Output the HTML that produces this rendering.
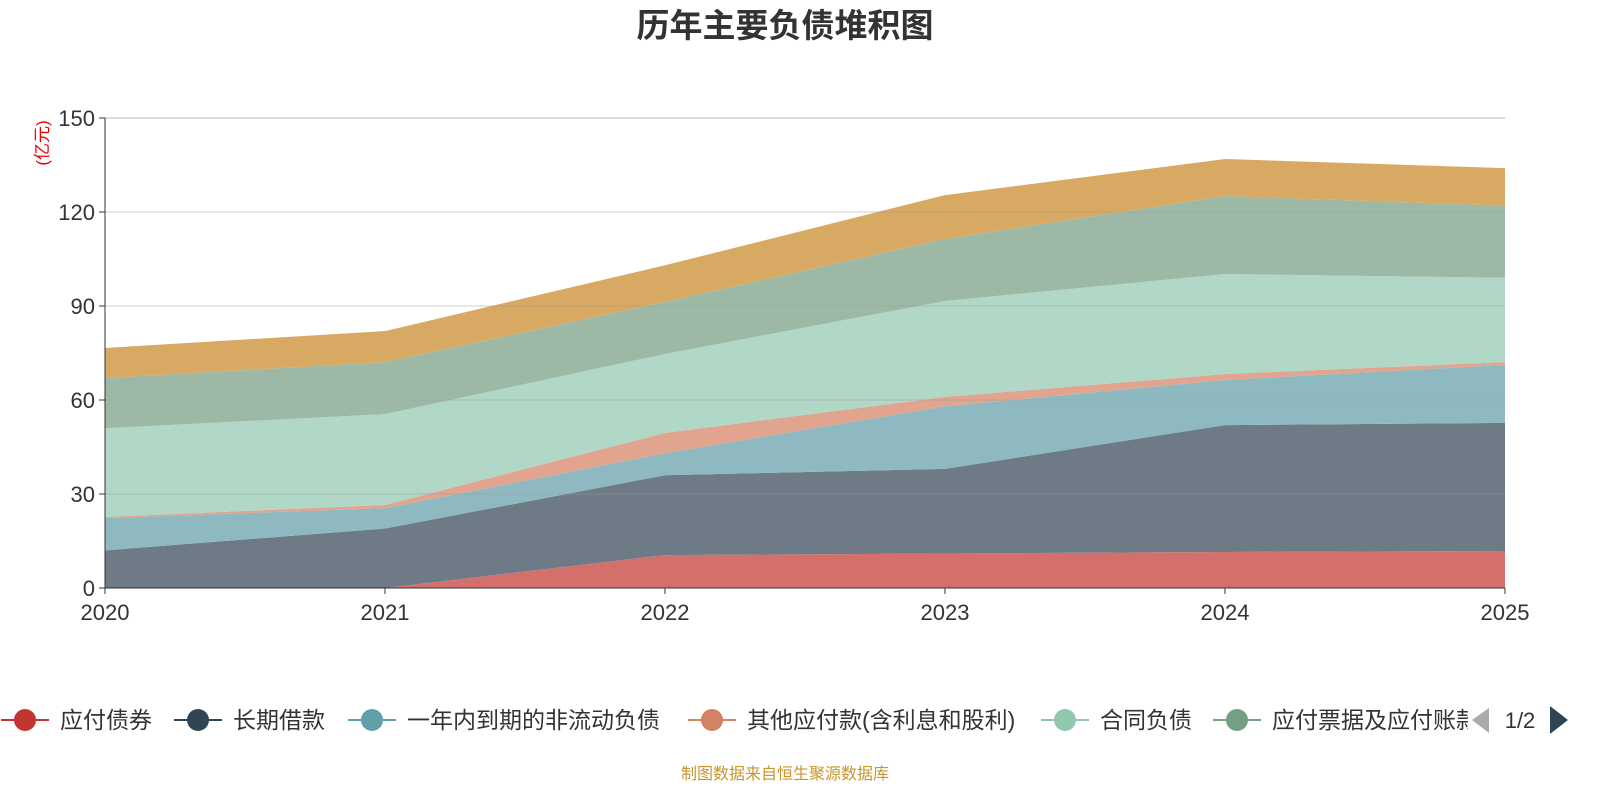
<!DOCTYPE html>
<html><head><meta charset="utf-8"><style>
html,body{margin:0;padding:0;background:#fff;}
svg{display:block;font-family:"Liberation Sans","Noto Sans CJK SC",sans-serif;}
</style></head><body>
<svg id="chart" width="1600" height="800">
<text x="785" y="37" text-anchor="middle" font-size="33" font-weight="bold" fill="#333">历年主要负债堆积图</text>
<text transform="translate(48,143) rotate(-90)" text-anchor="middle" font-size="17" fill="#e00">(亿元)</text>
<g id="areas"></g>
<g id="grid"></g>
<g id="axes"></g>
<g id="legend"></g>
<text x="785" y="779" text-anchor="middle" font-size="16" fill="#c8962a">制图数据来自恒生聚源数据库</text>
</svg>
<script>
const years = ['2020','2021','2022','2023','2024','2025'];
const seriesNames = ['应付债券','长期借款','一年内到期的非流动负债','其他应付款(含利息和股利)','合同负债','应付票据及应付账款','应付账款'];
const s0 = [0, 0, 10.5, 11, 11.5, 11.8];
const s1 = [12, 19, 25.5, 27, 40.5, 40.9];
const s2 = [10.3, 6.5, 7, 20, 14.4, 18.5];
const s3 = [0.4, 1, 6.5, 3, 1.9, 0.9];
const s4 = [28.3, 29, 25.2, 30.6, 31.9, 26.9];
const s5 = [16, 16.6, 16.6, 19.8, 24.9, 23];
const s6 = [9.6, 9.9, 11.7, 14, 11.8, 12];
const yTicks = [0, 30, 60, 90, 120, 150];
const fills = ['#d4706c','#6e7b86','#8fb9c0','#e0a48f','#b1d7c6','#9db9a6','#d8a962'];
const legendColors = ['#c23531','#2f4554','#61a0a8','#d48265','#91c7ae','#749f83'];

const NS='http://www.w3.org/2000/svg';
const x0=105,x1=1505,y0=588,y1=118,ymax=150;
const X=i=>x0+(x1-x0)*i/(years.length-1);
const Y=v=>y0-(y0-y1)*v/ymax;
function mk(t,a,p){const e=document.createElementNS(NS,t);for(const k in a)e.setAttribute(k,a[k]);p.appendChild(e);return e;}

const series=[s0,s1,s2,s3,s4,s5,s6];
const areas=document.getElementById('areas');
let base=years.map(()=>0);
series.forEach((s,si)=>{
  const top=base.map((b,i)=>b+s[i]);
  let d='';
  top.forEach((v,i)=>{d+=(i?'L':'M')+X(i)+','+Y(v);});
  for(let i=years.length-1;i>=0;i--)d+='L'+X(i)+','+Y(base[i]);
  const p=mk('path',{d:d+'Z',fill:fills[si]},areas);
  
  
  base=top;
});

const grid=document.getElementById('grid'),axes=document.getElementById('axes');
yTicks.forEach(t=>{
  if(t>0){const l=mk('line',{x1:x0,x2:x1,y1:Y(t),y2:Y(t),stroke:'#999','stroke-opacity':t==150?0.7:0.45,'stroke-width':1},grid);
  
  }
  mk('line',{x1:x0-6,x2:x0,y1:Y(t),y2:Y(t),stroke:'#333'},axes);
  const tx=mk('text',{x:x0-10,y:Y(t)+8,'text-anchor':'end','font-size':22,fill:'#333'},axes);
  tx.textContent=t;
  
  
});
mk('line',{x1:x0,x2:x0,y1:y1,y2:y0,stroke:'#333'},axes);
mk('line',{x1:x0,x2:x1,y1:y0,y2:y0,stroke:'#333'},axes);
years.forEach((yr,i)=>{
  mk('line',{x1:X(i),x2:X(i),y1:y0,y2:y0+6,stroke:'#333'},axes);
  const tx=mk('text',{x:X(i),y:y0+32,'text-anchor':'middle','font-size':22,fill:'#333'},axes);
  tx.textContent=yr;
  
  
});

const lg=document.getElementById('legend');
const defs=mk('defs',{},lg);
const cp=mk('clipPath',{id:'lc'},defs);mk('rect',{x:0,y:690,width:1468,height:60},cp);
const lgg=mk('g',{'clip-path':'url(#lc)'},lg);
const lx=[25,198,372,712,1065,1237];
lx.forEach((cx,i)=>{
  const g=mk('g',{},lgg);
  
  
  mk('line',{x1:cx-24,x2:cx+24,y1:720,y2:720,stroke:legendColors[i],'stroke-width':2},g);
  mk('circle',{cx:cx,cy:720,r:11,fill:legendColors[i]},g);
  const t=mk('text',{x:cx+35,y:728,'font-size':23,fill:'#333'},g);
  t.textContent=seriesNames[i];
});
const pl=mk('path',{d:'M1489,708 L1472,720 L1489,733 Z',fill:'#aaa'},lg);


const pt=mk('text',{x:1520,y:728,'text-anchor':'middle','font-size':22,fill:'#333'},lg);
pt.textContent='1/2';


const pn=mk('path',{d:'M1550,706 L1568,720 L1550,734 Z',fill:'#2f4554'},lg);


</script>
</body></html>
